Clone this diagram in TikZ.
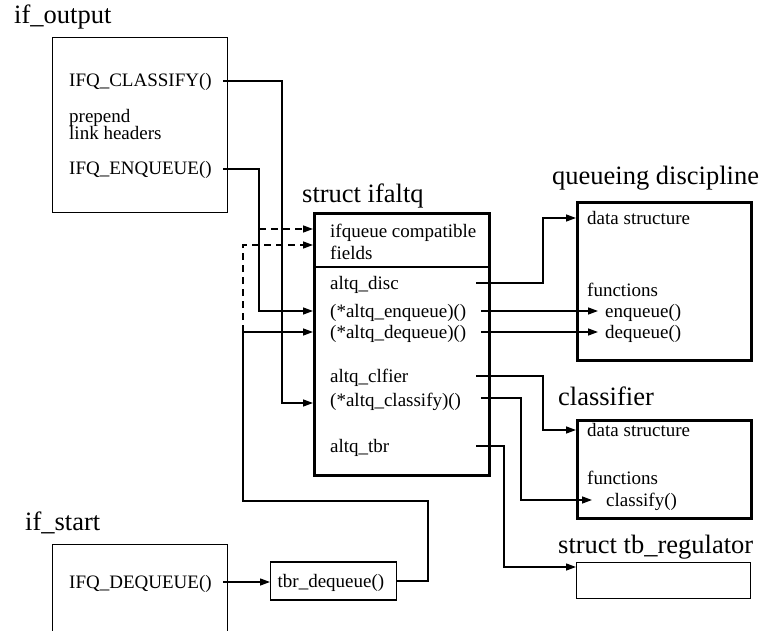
\documentclass[tikz,border=0pt]{standalone}
\usepackage{fontspec}
\setmainfont{Liberation Serif}
\usetikzlibrary{arrows.meta,calc}

\begin{document}
\begin{tikzpicture}
  [x=1pt,y=-1pt,every node/.style={inner sep=0pt},
   txt/.style={anchor=west,font=\fontsize{19}{22}\selectfont,text height=14pt,text depth=2pt},
   lines/.style={anchor=north west,align=left},
   head/.style={anchor=base west,font=\fontsize{26.5}{30}\selectfont},
   thinbox/.style={draw,line width=1.3pt,anchor=north west},
   heavybox/.style={draw,line width=3pt,anchor=north west},
   conn/.style={line width=1.3pt},
   tip/.style={-{Triangle[length=10pt,width=7pt]}}]
\useasboundingbox (0,0) rectangle (765,631);

\node [thinbox,minimum width=175pt,minimum height=175pt] (out)   at (52,37)   {};
\node [thinbox,minimum width=175pt,minimum height=100pt] (start) at (52,544)  {};
\node [heavybox,minimum width=175pt,minimum height=262pt] (alt)  at (313,212) {};
\node [heavybox,minimum width=174pt,minimum height=158pt] (qd)   at (576,201) {};
\node [heavybox,minimum width=174pt,minimum height=98pt]  (cf)   at (576,419) {};
\node [thinbox,minimum width=174pt,minimum height=36pt]   (tb)   at (576,562) {};
\draw [conn] ([yshift=-55pt]alt.north west) -- ([yshift=-55pt]alt.north east) ;

\node [head] (hout)   at (14,24)   {if\_output};
\node [head] (halt)   at (302,203) {struct ifaltq};
\node [head] (hqd)    at (552,185) {queueing discipline};
\node [head] (hcf)    at (558,405) {classifier};
\node [head] (htb)    at (558,553) {struct tb\_regulator};
\node [head] (hstart) at (25,530)  {if\_start};

\node [txt] (cls) at (69,81)  {IFQ\_CLASSIFY()};
\node [lines,font=\fontsize{19}{17.5}\selectfont] (pre) at (69,109) {prepend\\link headers};
\node [txt] (enq) at (69,169) {IFQ\_ENQUEUE()};
\node [txt] (deq) at (69,582) {IFQ\_DEQUEUE()};
\node [txt,draw,line width=1.3pt,inner xsep=7pt,text width=112pt,minimum height=38pt]
            (tbrdq) at (270,581) {tbr\_dequeue()};

\node [lines,font=\fontsize{19}{22}\selectfont] (ifq) at (330,224) {ifqueue compatible\\fields};
\node [txt] (disc)   at (330,283) {altq\_disc};
\node [txt] (aenq)   at (330,311) {(*altq\_enqueue)()};
\node [txt] (adeq)   at (330,332) {(*altq\_dequeue)()};
\node [txt] (clfier) at (330,376) {altq\_clfier};
\node [txt] (aclsf)  at (330,400) {(*altq\_classify)()};
\node [txt] (tbr)    at (330,446) {altq\_tbr};

\node [txt] (qds)   at (587,218) {data structure};
\node [txt] (qfn)   at (587,290) {functions};
\node [txt] (qenq)  at (605,311) {enqueue()};
\node [txt] (qdeq)  at (605,332) {dequeue()};
\node [txt] (cds)   at (587,430) {data structure};
\node [txt] (cfn)   at (587,478) {functions};
\node [txt] (cclsf) at (606,500) {classify()};

\coordinate (d1) at (259,229) ;
\coordinate (d2) at (243,245) ;

\draw [conn,tip] ($(out.east |- cls)+(-5,0)$) -| (282,403) -- ($(alt.west |- aclsf)+(0,3)$) ;
\draw [conn,tip] ($(out.east |- enq)+(-5,0)$) -| (259,311) -- (alt.west |- aenq) ;
\draw [conn,dashed,dash pattern=on 7pt off 5pt,tip] (d1) -- (alt.west |- d1) ;
\draw [conn,dashed,dash pattern=on 7pt off 5pt,tip] (243,332) -- (d2) -- (alt.west |- d2) ;
\draw [conn,tip] (tbrdq.east) -| (428,501) -| (243,332) -- (alt.west |- adeq) ;
\draw [conn,tip] ($(start.east |- deq)+(-5,0)$) -- (tbrdq.west |- deq) ;

\draw [conn,tip] ($(alt.east |- disc)+(-15,0)$) -| (543,218) -- (qd.west |- qds) ;
\draw [conn,tip] ($(alt.east |- aenq)+(-10,0)$) -- ([xshift=-7pt]qenq.west) ;
\draw [conn,tip] ($(alt.east |- adeq)+(-10,0)$) -- ([xshift=-7pt]qdeq.west) ;
\draw [conn,tip] ($(alt.east |- clfier)+(-15,0)$) -| (543,430) -- (cf.west |- cds) ;
\draw [conn,tip] ($(alt.east |- aclsf)+(-10,-2)$) -| (521,500) -- ([xshift=-14pt]cclsf.west) ;
\draw [conn,tip] ($(alt.east |- tbr)+(-15,0)$) -| ([xshift=-72pt,yshift=-5pt]tb.north west)
                 -- ([yshift=-5pt]tb.north west) ;
\end{tikzpicture}
\end{document}
